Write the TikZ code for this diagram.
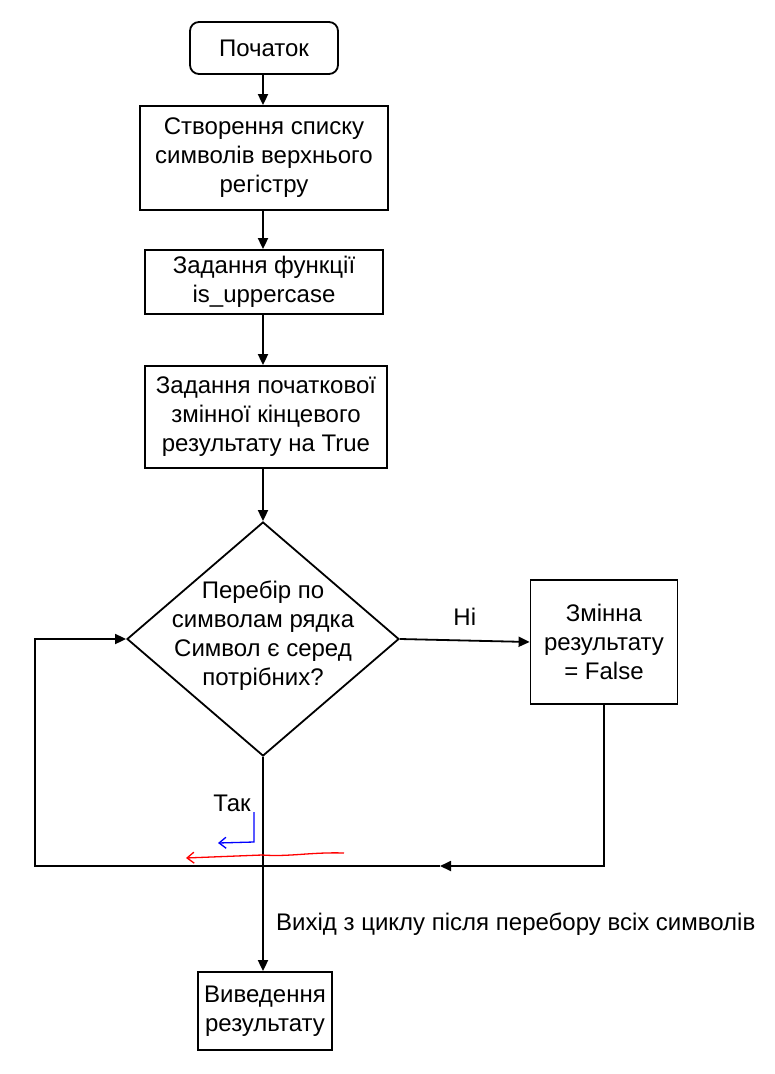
\documentclass[tikz,border=0pt]{standalone}
\usepackage{fontspec}
\setmainfont{Liberation Sans}
\usetikzlibrary{shapes.geometric,arrows.meta}

\begin{document}
\begin{tikzpicture}[x=1pt, y=-1pt, line width=1.8pt,
    font=\fontsize{24}{29}\selectfont,
    box/.style={draw, align=center, inner sep=0pt},
    flow/.style={-{Triangle[length=11pt,width=10pt]}},
    pen/.style={line width=1.3pt, -{Straight Barb[length=7pt,width=11pt]}}]
    \useasboundingbox (0,0) rectangle (775,1074);

    \node[box, rounded corners=9pt, minimum width=148pt, minimum height=52pt] (start) at (264,48) {Початок};
    \node[box, minimum width=248pt, minimum height=104pt] (list) at (264,158) {Створення списку\\символів верхнього\\регістру};
    \node[box, minimum width=238pt, minimum height=64pt] (func) at (264,282) {Задання функції\\is\_uppercase};
    \node[box, minimum width=242pt, minimum height=102pt] (init) at (266,417) {Задання початкової\\змінної кінцевого\\результату на True};
    \node[draw, diamond, inner sep=0pt, minimum width=272pt, minimum height=234pt] (cond) at (263,639) {};
    \node[align=center] (condtxt) at (263,636) {Перебір по\\символам рядка\\Символ є серед\\потрібних?};
    \node[box, minimum width=147pt, minimum height=124pt] (fls) at (604,642) {Змінна\\результату\\= False};
    \node[box, minimum width=134pt, minimum height=78pt] (result) at (265,1011) {Виведення\\результату};

    \coordinate (back) at (440,866);
    \coordinate (corner) at (35,866);

    \draw[flow] (start.south -| cond.north) -- (list.north -| cond.north);
    \draw[flow] (list.south -| cond.north) -- (func.north -| cond.north);
    \draw[flow] (func.south -| cond.north) -- (init.north -| cond.north);
    \draw[flow] (init.south -| cond.north) -- (cond.north);
    \draw[flow] (cond.east) -- node[above=11pt] (no) {Ні} (fls.west);
    \draw[flow] (fls.south) |- (back);
    \draw[flow] (back) -- (corner) |- (cond.west);
    \draw[flow] (cond.south) -- (result.north -| cond.south);

    \node (yes) at (232,803) {Так};
    \node[anchor=west] (exit) at (272,924) {Вихід з циклу після перебору всіх символів};

    \draw[pen, blue] (254,812) -- (254,842) -- (218,843);
    \draw[pen, red] (344,853) .. controls (310,852) and (290,857) .. (262,855) -- (186,858);
\end{tikzpicture}
\end{document}
